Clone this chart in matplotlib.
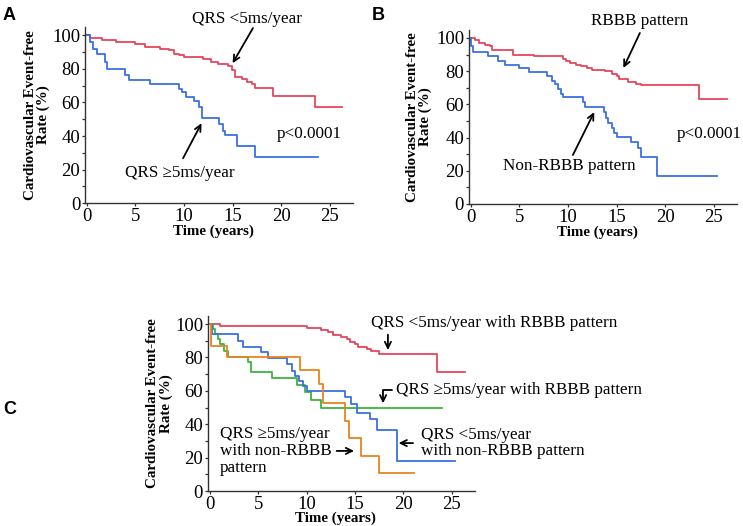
import numpy as np
import matplotlib
matplotlib.use('Agg')
import matplotlib.pyplot as plt
from matplotlib.ticker import MultipleLocator

plt.rcParams['font.family'] = ['Liberation Serif', 'DejaVu Serif']

RED = '#e4465a'
BLUE = '#3b6fe3'
GREEN = '#3db33d'
ORANGE = '#e8841e'

# panel A: QRS progression
A_slow_t = [0, 0.3, 1.5, 3, 5, 6, 7.5, 8.5, 9, 9.5, 10, 12, 12.8, 13.5, 14.5, 14.9,
            15.2, 16, 16.5, 17, 17.3, 19.2, 23.5, 26.3]
A_slow_s = [100, 98, 97, 96, 95, 93, 92, 91, 89, 88, 87, 86, 84, 83, 81.5, 79,
            75, 74, 72, 71, 68.5, 64, 57, 57]
A_fast_t = [0, 0.3, 0.6, 1.0, 1.9, 2.1, 3.9, 4.3, 6.5, 9.5, 9.8, 10.2, 11.0, 11.5, 11.8,
            13.6, 14.0, 14.2, 15.5, 17.3, 23.8]
A_fast_s = [100, 96, 92, 89, 84, 80, 76, 73.5, 71, 68, 66, 63, 61, 57, 51,
            47, 43, 40.5, 34, 27.5, 27.5]

# panel B: ECG pattern
B_rbbb_t = [0, 0.4, 0.8, 1.5, 2.0, 2.2, 4.3, 6.5, 9.5, 9.8, 10.2, 10.8, 11.3, 12.0, 12.5,
            13.8, 14.5, 15.0, 15.3, 16.2, 17.0, 17.5, 23.5, 26.4]
B_rbbb_s = [100, 99, 97, 96, 95, 92.5, 90, 89, 87.5, 86, 85, 84, 83, 82, 81,
            80, 78.5, 77, 75, 73.5, 72.5, 71.5, 63.5, 63.5]
B_non_t = [0, 0.05, 0.2, 1.8, 2.8, 3.5, 5.0, 6.0, 7.8, 8.3, 8.7, 9.0, 9.3, 9.5, 11.5, 11.7,
           13.7, 13.9, 14.1, 14.5, 14.7, 15.0, 16.5, 17.2, 17.5, 19.2, 25.3]
B_non_s = [100, 95, 91.5, 89, 86, 84, 82, 79.5, 77, 74, 72, 69, 66.5, 64.5, 61.5, 58.5,
           55.5, 52, 49, 46, 43, 40.5, 37.5, 33.5, 28, 17, 17]

# panel C: combined groups
C_slow_rbbb_t = [0, 1.0, 10.0, 11.5, 12.2, 12.7, 13.5, 14.2, 14.5, 15.0, 15.3, 16.2, 16.7,
                 17.5, 23.5, 26.4]
C_slow_rbbb_s = [100, 99, 97.5, 96.5, 95, 93.5, 92, 91, 89, 88, 86, 85, 84, 82, 71.5, 71.5]
C_fast_rbbb_t = [0, 0.3, 0.5, 0.8, 1.0, 1.5, 1.9, 3.9, 4.2, 6.4, 9.0, 9.8, 10.5, 11.5, 24.0]
C_fast_rbbb_s = [100, 97, 94, 91, 88, 84, 80.5, 77, 71, 67.5, 63.5, 59.5, 54.5, 50, 50]
C_slow_non_t = [0, 0.2, 2.9, 3.4, 5.3, 6.0, 8.0, 8.5, 8.8, 9.2, 9.6, 10.0, 14.0, 14.6,
                15.2, 16.5, 17.3, 19.3, 25.3]
C_slow_non_s = [100, 94, 90, 86, 83, 79.5, 76, 72, 69, 66, 63, 60, 56, 52, 47, 43, 36.5, 18, 18]
C_fast_non_t = [0, 0.1, 1.8, 9.3, 11.3, 11.65, 14.0, 14.4, 15.6, 17.5, 21.1]
C_fast_non_s = [100, 87, 80, 72.5, 64, 52.5, 42, 32, 21, 10.5, 10.5]

YTICKS = [0, 20, 40, 60, 80, 100]
XTICKS = [0, 5, 10, 15, 20, 25]

ARROW = dict(arrowstyle='->,head_length=0.45,head_width=0.22', color='k', lw=1.3,
             shrinkA=0, shrinkB=0)
TXT = 12.3


def setup(ax, ylab_x, xlab_y):
    ax.set_xlim(-0.2, 27.4)
    ax.set_ylim(0, 105)
    ax.set_xticks(XTICKS)
    ax.set_yticks(YTICKS)
    ax.yaxis.set_minor_locator(MultipleLocator(10))
    for side in ['top', 'right']:
        ax.spines[side].set_visible(False)
    for side in ['left', 'bottom']:
        ax.spines[side].set_color('#333333')
        ax.spines[side].set_linewidth(1.0)
    ax.tick_params(which='both', direction='out', color='#333333', labelsize=13.5,
                   length=2.5, width=0.9, pad=1.0)
    ax.set_ylabel('Cardiovascular Event-free\nRate (%)', fontsize=10.8,
                  fontweight='bold', linespacing=1.0)
    ax.set_xlabel('Time (years)', fontsize=10.8, fontweight='bold')
    ax.xaxis.set_label_coords(0.478, xlab_y)
    ax.yaxis.set_label_coords(ylab_x, 0.5)


def km(ax, t, s, color):
    ax.step(t, s, where='post', color=color, lw=1.3)


fig = plt.figure(figsize=(7.43, 5.26), dpi=100)

axA = fig.add_axes([0.1144, 0.6135, 0.3607, 0.3357])
setup(axA, -0.13, -0.122)
km(axA, A_slow_t, A_slow_s, RED)
km(axA, A_fast_t, A_fast_s, BLUE)
axA.text(10.8, 109.5, 'QRS <5ms/year', fontsize=TXT, va='center', ha='left', clip_on=False)
axA.annotate('', xy=(15.0, 83.3), xytext=(17.1, 104.2), arrowprops=ARROW,
             annotation_clip=False)
axA.text(3.9, 17.9, u'QRS \u22655ms/year', fontsize=TXT, va='center', ha='left')
axA.annotate('', xy=(11.8, 47.6), xytext=(9.9, 26.8), arrowprops=ARROW)
axA.text(19.5, 41, 'p<0.0001', fontsize=TXT, va='center', ha='left')

axB = fig.add_axes([0.6312, 0.6122, 0.3607, 0.3314])
setup(axB, -0.138, -0.122)
km(axB, B_rbbb_t, B_rbbb_s, RED)
km(axB, B_non_t, B_non_s, BLUE)
axB.text(12.4, 110.2, 'RBBB pattern', fontsize=TXT, va='center', ha='left', clip_on=False)
axB.annotate('', xy=(15.7, 81.9), xytext=(17.4, 103), arrowprops=ARROW,
             annotation_clip=False)
axB.text(3.3, 22.9, 'Non-RBBB pattern', fontsize=TXT, va='center', ha='left')
axB.annotate('', xy=(12.7, 55.4), xytext=(10.5, 29.5), arrowprops=ARROW)
axB.text(21.2, 42.2, 'p<0.0001', fontsize=TXT, va='center', ha='left', clip_on=False)

axC = fig.add_axes([0.2799, 0.0665, 0.3594, 0.3334])
setup(axC, -0.131, -0.118)
km(axC, C_slow_rbbb_t, C_slow_rbbb_s, RED)
km(axC, C_fast_rbbb_t, C_fast_rbbb_s, GREEN)
km(axC, C_slow_non_t, C_slow_non_s, BLUE)
km(axC, C_fast_non_t, C_fast_non_s, ORANGE)
axC.text(16.6, 100.6, 'QRS <5ms/year with RBBB pattern', fontsize=TXT, va='center',
         ha='left', clip_on=False)
axC.annotate('', xy=(18.4, 84.4), xytext=(18.4, 93.6), arrowprops=ARROW)
axC.text(19.2, 60.5, u'QRS \u22655ms/year with RBBB pattern', fontsize=TXT, va='center',
         ha='left', clip_on=False)
axC.annotate('', xy=(17.9, 52.5), xytext=(18.8, 60.5),
             arrowprops=dict(ARROW, connectionstyle='angle,angleA=0,angleB=90,rad=0'))
axC.text(21.8, 28.7, 'QRS <5ms/year\nwith non-RBBB pattern', fontsize=TXT, va='center',
         ha='left', linespacing=1.05, clip_on=False)
axC.annotate('', xy=(19.5, 28.7), xytext=(21.0, 28.7), arrowprops=ARROW)
axC.text(1.0, 24, u'QRS \u22655ms/year\nwith non-RBBB\npattern', fontsize=TXT,
         va='center', ha='left', linespacing=1.05)
axC.annotate('', xy=(14.9, 24), xytext=(13.1, 24), arrowprops=ARROW)

for lab, x, y in [('A', 0.003, 0.987), ('B', 0.501, 0.987), ('C', 0.004, 0.238)]:
    fig.text(x, y, lab, fontsize=13, fontweight='bold', family='Liberation Sans',
             va='top', ha='left')

plt.savefig('out.png', dpi=100)
